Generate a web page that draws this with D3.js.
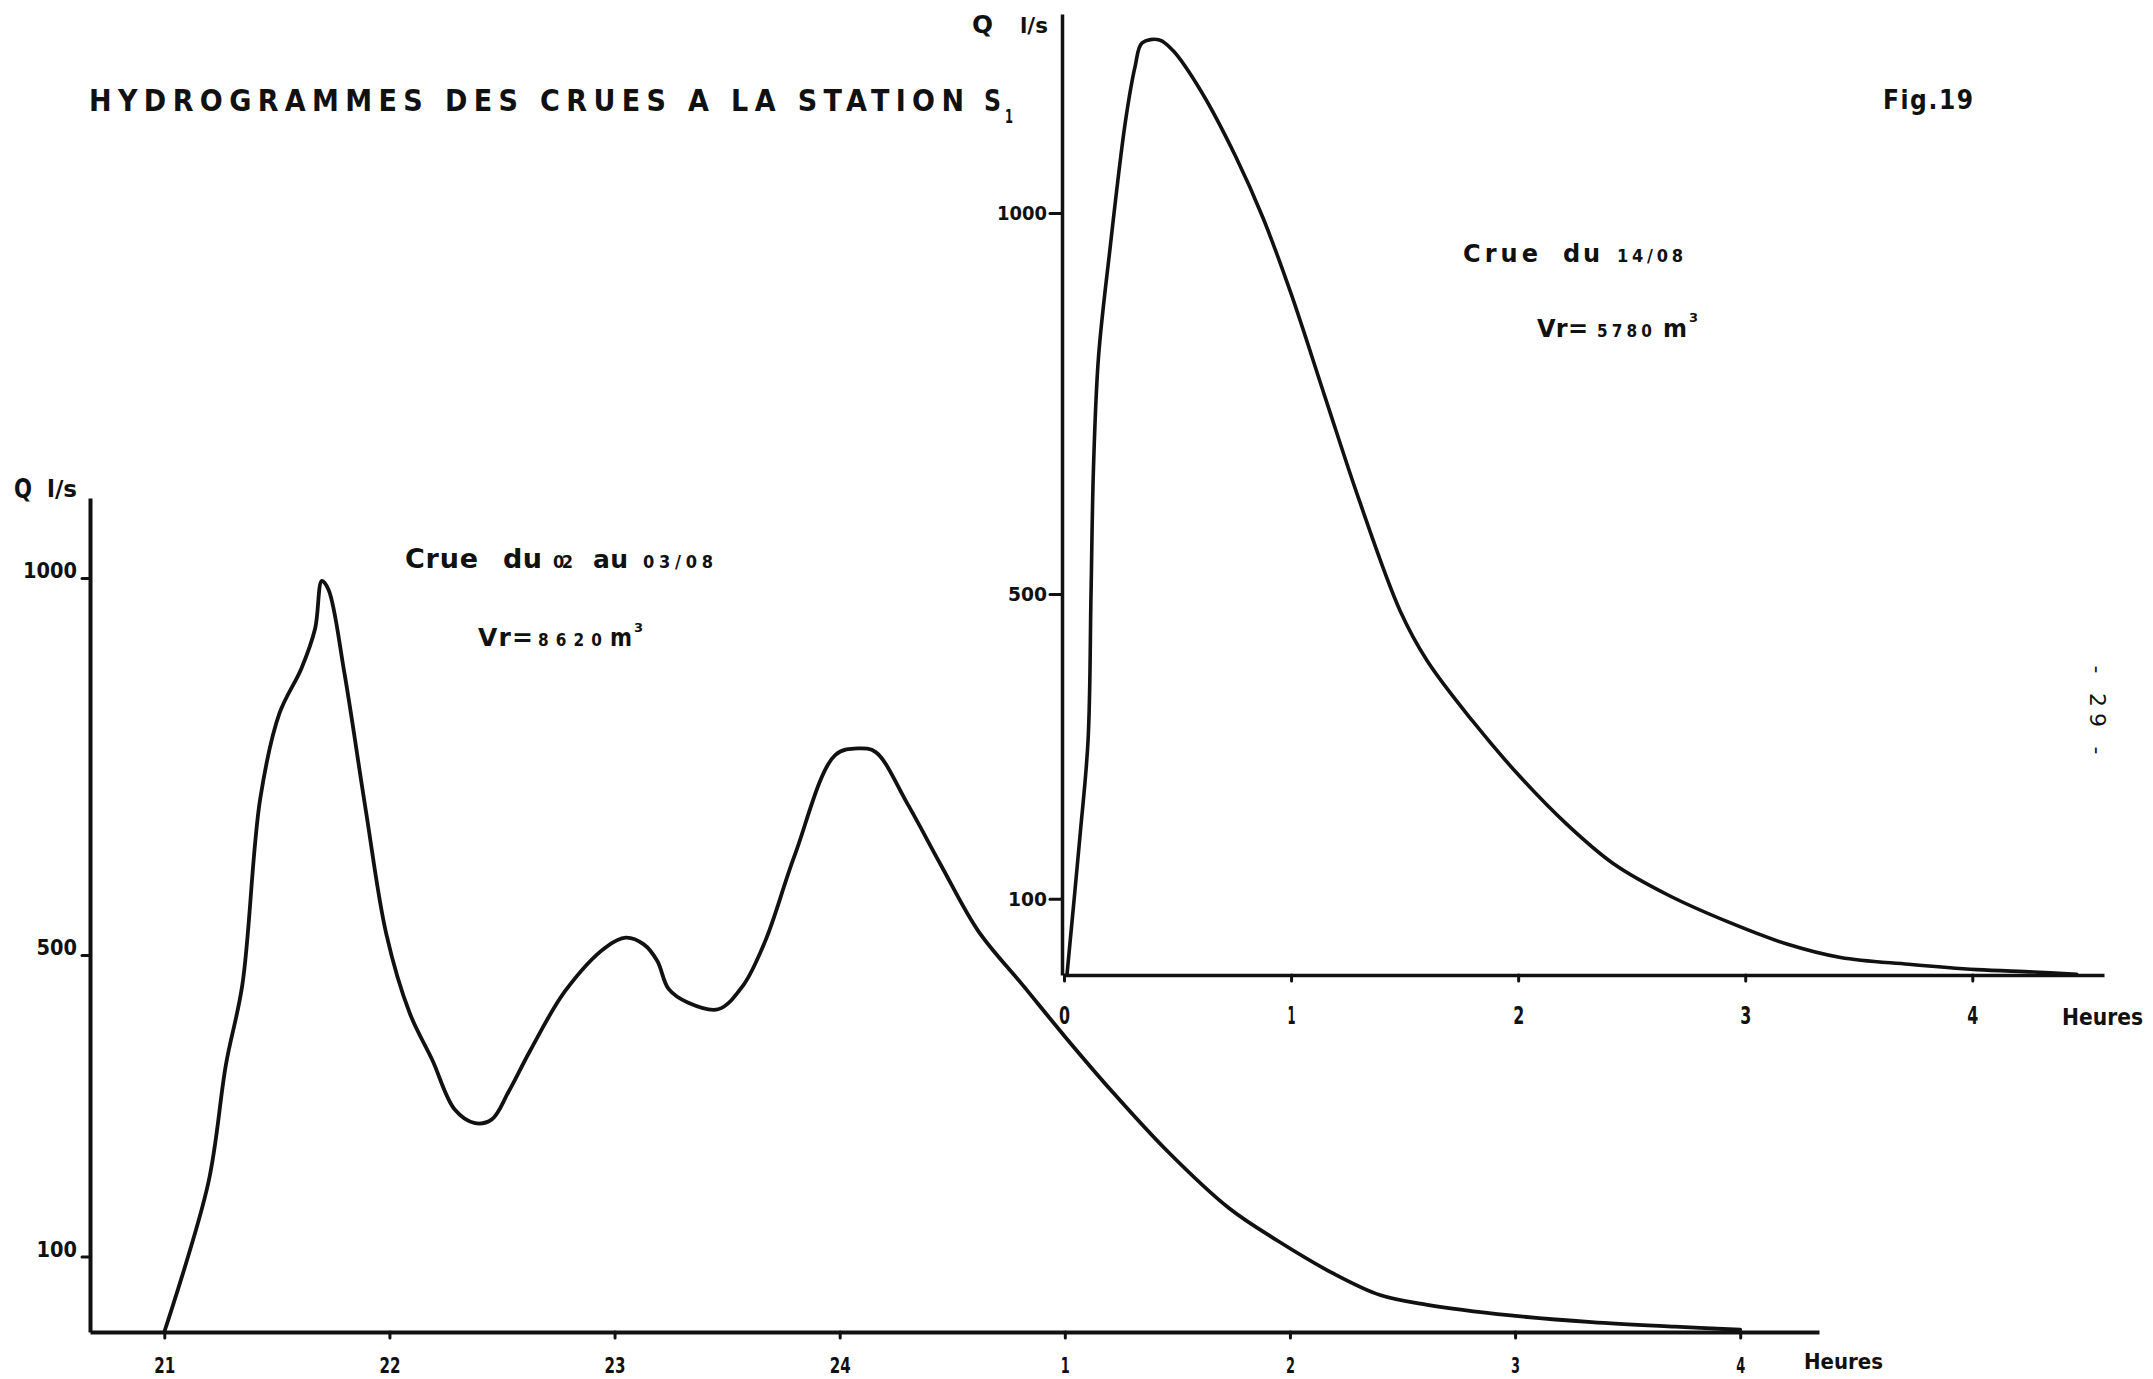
<!DOCTYPE html>
<html><head><meta charset="utf-8">
<script src="https://cdn.jsdelivr.net/npm/d3@7"></script>
<style>
body{margin:0;background:#fff;}
svg{display:block;background:#fff;}
</style></head><body>
<svg id="c" width="2153" height="1379"></svg>
<script>
// ---------- DATA ----------
// Left hydrograph: crue du 02 au 03/08 (hours after 21:00, Q in l/s)
const leftTime = [0, 0.195, 0.274, 0.347, 0.426, 0.511, 0.609, 0.67, 0.70, 0.73, 0.80, 0.895, 0.986, 1.09, 1.19, 1.29, 1.38, 1.455, 1.53, 1.625, 1.78, 1.96, 2.05, 2.13, 2.19, 2.24, 2.325, 2.46, 2.57, 2.67, 2.80, 2.98, 3.085, 3.16, 3.30, 3.45, 3.615, 3.816, 4.0, 4.21, 4.455, 4.73, 4.94, 5.19, 5.40, 5.61, 5.98, 6.34, 6.71, 7.0];
const leftFlow = [0, 197, 355, 461, 707, 820, 880, 933, 996, 984, 874, 692, 528, 423, 361, 295, 277, 282, 319, 373, 452, 510, 523, 514, 492, 455, 437, 428, 459, 519, 632, 765, 774, 769, 701, 619, 532, 459, 392, 319, 240, 164, 122, 78, 49, 36, 22, 13, 7, 3];
// Right hydrograph: crue du 14/08 (hours from start)
const rightTime = [0.013, 0.07, 0.106, 0.119, 0.13, 0.152, 0.203, 0.27, 0.313, 0.344, 0.42, 0.48, 0.605, 0.756, 0.877, 1.0, 1.15, 1.30, 1.48, 1.60, 1.80, 2.0, 2.21, 2.42, 2.66, 2.93, 3.18, 3.42, 3.72, 4.02, 4.27, 4.46];
const rightFlow = [0, 181, 308, 500, 667, 811, 954, 1119, 1192, 1223, 1227, 1213, 1159, 1074, 993, 894, 758, 623, 478, 412, 333, 263, 199, 146, 105, 69, 41, 23, 14, 7, 4, 1];
// Tick labels
const leftTickHours = [0, 1, 2, 3, 4, 5, 6, 7];
const leftTickLabels = ["21", "22", "23", "24", "1", "2", "3", "4"];
const rightTickHours = [0, 1, 2, 3, 4];
const rightTickLabels = ["0", "1", "2", "3", "4"];
const flowTicks = [100, 500, 1000];
const flowTickLabels = ["100", "500", "1000"];

// ---------- DRAW ----------
const INK = "#111";
const COND = "'DejaVu Sans Condensed','Liberation Sans Narrow','DejaVu Sans',sans-serif";
const GEO = "'DejaVu Sans','Open Sans',sans-serif";
const svg = d3.select("#c");

// scales
const xL = d3.scaleLinear().domain([-0.33, 7.35]).range([90, 1819]);
const yL = d3.scaleLinear().domain([0, 1106]).range([1332, 498]);
const xR = d3.scaleLinear().domain([0, 4.58]).range([1064, 2104]);
const yR = d3.scaleLinear().domain([0, 1261]).range([975, 14]);

function styleAxis(g, sw) {
  g.select(".domain").attr("stroke", INK).attr("stroke-width", sw);
  g.selectAll(".tick line").attr("stroke", INK).attr("stroke-width", 3).attr("stroke-linecap", "round");
  g.selectAll(".tick text").attr("fill", INK).attr("font-family", COND).attr("font-weight", "bold");
}

// Left axes
const gxL = svg.append("g").attr("transform", "translate(0,1332)")
  .call(d3.axisBottom(xL).tickValues(leftTickHours).tickSize(6).tickSizeOuter(0).tickPadding(19)
    .tickFormat((d, i) => leftTickLabels[i]));
styleAxis(gxL, 4);
gxL.selectAll(".tick text").attr("font-size", 22)
  .attr("textLength", d => leftTickLabels[leftTickHours.indexOf(d)].length === 1 ? 9 : 21)
  .attr("lengthAdjust", "spacingAndGlyphs");

const gyL = svg.append("g").attr("transform", "translate(90,0)")
  .call(d3.axisLeft(yL).tickValues(flowTicks).tickSize(8).tickSizeOuter(0).tickPadding(5)
    .tickFormat((d, i) => flowTickLabels[i]));
styleAxis(gyL, 4);
gyL.selectAll(".tick text").attr("font-size", 22).attr("dy", "-0.02em")
  .attr("textLength", d => String(d).length * 13.5).attr("lengthAdjust", "spacingAndGlyphs");

// Right axes
const gxR = svg.append("g").attr("transform", "translate(0,975)")
  .call(d3.axisBottom(xR).tickValues(rightTickHours).tickSize(6).tickSizeOuter(0).tickPadding(26)
    .tickFormat((d, i) => rightTickLabels[i]));
styleAxis(gxR, 3.5);
gxR.selectAll(".tick text").attr("font-size", 24)
  .attr("textLength", d => d === 1 ? 8 : 11).attr("lengthAdjust", "spacingAndGlyphs");

const gyR = svg.append("g").attr("transform", "translate(1062,0)")
  .call(d3.axisLeft(yR).tickValues(flowTicks).tickSize(12).tickSizeOuter(0).tickPadding(3)
    .tickFormat((d, i) => flowTickLabels[i]));
styleAxis(gyR, 3.5);
gyR.selectAll(".tick text").attr("font-size", 20)
  .attr("textLength", d => String(d).length === 4 ? 50 : 39).attr("lengthAdjust", "spacingAndGlyphs");

// Curves
const lineL = d3.line().x((d, i) => xL(leftTime[i])).y(d => yL(d)).curve(d3.curveCatmullRom.alpha(0.5));
svg.append("path").attr("d", lineL(leftFlow)).attr("fill", "none").attr("stroke", INK)
  .attr("stroke-width", 3.8).attr("stroke-linejoin", "round").attr("stroke-linecap", "round");
const lineR = d3.line().x((d, i) => xR(rightTime[i])).y(d => yR(d)).curve(d3.curveCatmullRom.alpha(0.5));
svg.append("path").attr("d", lineR(rightFlow)).attr("fill", "none").attr("stroke", INK)
  .attr("stroke-width", 3.6).attr("stroke-linejoin", "round").attr("stroke-linecap", "round");

// Text helper
function txt(s, x, y, size, opts = {}) {
  const t = svg.append("text").attr("x", x).attr("y", y).attr("font-size", size)
    .attr("font-family", opts.family || COND).attr("font-weight", opts.weight || "bold")
    .attr("fill", INK).text(s);
  if (opts.len) t.attr("textLength", opts.len).attr("lengthAdjust", opts.adj || "spacing");
  if (opts.anchor) t.attr("text-anchor", opts.anchor);
  if (opts.transform) t.attr("transform", opts.transform);
  return t;
}

// Title
txt("HYDROGRAMMES DES CRUES A LA STATION", 89, 111, 30, {len: 875});
txt("S", 984, 111, 30, {len: 17, adj: "spacingAndGlyphs"});
txt("1", 1005, 123, 19, {len: 8, adj: "spacingAndGlyphs"});
txt("Fig.19", 1883, 109, 26, {len: 90});

// Axis unit labels
txt("Q", 14, 498, 26, {family: GEO, len: 18, adj: "spacingAndGlyphs"});
txt("l/s", 47, 497, 23, {family: GEO, len: 30, adj: "spacingAndGlyphs"});
txt("Q", 972, 33, 24, {family: GEO, len: 21, adj: "spacingAndGlyphs"});
txt("l/s", 1020, 33, 22, {family: GEO, len: 28, adj: "spacingAndGlyphs"});
txt("Heures", 1804, 1369, 21, {len: 79, adj: "spacingAndGlyphs"});
txt("Heures", 2062, 1025, 23, {len: 81, adj: "spacingAndGlyphs"});

// Annotations left
txt("Crue", 405, 568, 27, {family: GEO, len: 73});
txt("du", 503, 568, 27, {family: GEO, len: 39});
txt("02", 553, 568, 18, {len: 20});
txt("au", 593, 568, 25, {family: GEO, len: 35});
txt("03/08", 643, 568, 18, {len: 70});
txt("Vr=", 478, 646, 25, {family: GEO, len: 55});
txt("8620", 538, 646, 17, {len: 64});
txt("m", 610, 646, 24, {family: GEO, len: 22, adj: "spacingAndGlyphs"});
txt("3", 634, 632, 13, {family: GEO});

// Annotations right
txt("Crue", 1463, 262, 24, {family: GEO, len: 75});
txt("du", 1563, 262, 24, {family: GEO, len: 37});
txt("14/08", 1617, 262, 18, {len: 66});
txt("Vr=", 1537, 337, 24, {family: GEO, len: 51});
txt("5780", 1597, 337, 17, {len: 55});
txt("m", 1663, 337, 24, {family: GEO, len: 24, adj: "spacingAndGlyphs"});
txt("3", 1689, 322, 13, {family: GEO});

// Page number (rotated)
txt("- 29 -", 0, 0, 22, {family: GEO, weight: "normal", anchor: "middle", len: 89,
  transform: "translate(2090,710) rotate(90)"});
</script>
</body></html>
